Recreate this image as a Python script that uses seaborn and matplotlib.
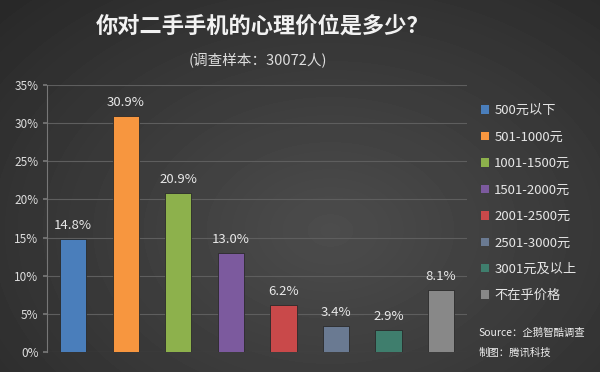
import numpy as np
import pandas as pd
import seaborn as sns
import matplotlib.pyplot as plt
from matplotlib.patches import Patch

# data
categories = ['500元以下', '501-1000元', '1001-1500元', '1501-2000元',
              '2001-2500元', '2501-3000元', '3001元及以上', '不在乎价格']
shares = [14.8, 30.9, 20.9, 13.0, 6.2, 3.4, 2.9, 8.1]
colors = ['#4a7ebb', '#f7963f', '#8db14c', '#7c5a9e',
          '#c9494a', '#6a7a92', '#3f7e6d', '#888888']
yticks = [0, 5, 10, 15, 20, 25, 30, 35]

df = pd.DataFrame({'cat': categories, 'share': shares})

sns.set_theme(style='dark')
plt.rcParams['font.family'] = ['Noto Sans CJK SC', 'DejaVu Sans']
plt.rcParams['axes.unicode_minus'] = False

fig = plt.figure(figsize=(6, 3.72), dpi=100)

# dark radial background
bg = fig.add_axes([0, 0, 1, 1], zorder=-5)
yy, xx = np.mgrid[0:372, 0:600]
r = np.sqrt(((xx - 330) / 420.0) ** 2 + ((yy - 230) / 300.0) ** 2)
shade = np.clip(0.30 - 0.13 * r, 0.16, 0.30)
bg.imshow(shade, cmap='gray', vmin=0, vmax=1, aspect='auto', extent=[0, 1, 0, 1])
bg.axis('off')

ax = fig.add_axes([0.078, 0.0538, 0.701, 0.7177])
ax.set_facecolor('none')
sns.barplot(data=df, x='cat', y='share', hue='cat', palette=colors,
            width=0.5, legend=False, ax=ax, saturation=1,
            edgecolor='#2a2a2a', linewidth=0.6)

for p, v in zip(ax.patches, shares):
    ax.text(p.get_x() + p.get_width() / 2, v + 0.9, f'{v:.1f}%',
            ha='center', va='bottom', color='#e8e8e8', fontsize=9.5)

ax.set_ylim(0, 35)
ax.set_xlim(-0.5, 7.5)
ax.set_yticks(yticks)
ax.set_yticklabels([f'{t}%' for t in yticks], color='#dddddd', fontsize=8.5)
ax.set_xticks([])
ax.set_xlabel('')
ax.set_ylabel('')
ax.grid(axis='y', color='#5e5e5e', linewidth=0.8)
ax.set_axisbelow(True)
ax.tick_params(axis='y', length=3, color='#777777', pad=3, left=True)
for s in ['top', 'right', 'bottom']:
    ax.spines[s].set_visible(False)
ax.spines['left'].set_color('#777777')
ax.spines['left'].set_linewidth(0.8)

handles = [Patch(facecolor=c, edgecolor='none') for c in colors]
fig.legend(handles, categories, loc='upper left', bbox_to_anchor=(0.782, 0.752),
           frameon=False, fontsize=9.5, labelcolor='#e6e6e6',
           handlelength=0.6, handleheight=0.6, handletextpad=0.4,
           labelspacing=1.02)

fig.text(0.437, 0.93, '你对二手手机的心理价位是多少？', ha='center', va='center',
         fontsize=16, fontweight='bold', color='#f2f2f2')
fig.text(0.43, 0.837, '(调查样本：30072人)', ha='center', va='center',
         fontsize=10.5, color='#dddddd')

fig.text(0.797, 0.105, 'Source：企鹅智酷调查', ha='left', va='center',
         fontsize=7.5, color='#eeeeee', style='italic')
fig.text(0.797, 0.052, '制图：腾讯科技', ha='left', va='center',
         fontsize=7.5, color='#eeeeee', style='italic')

fig.savefig('out.png', dpi=100)
